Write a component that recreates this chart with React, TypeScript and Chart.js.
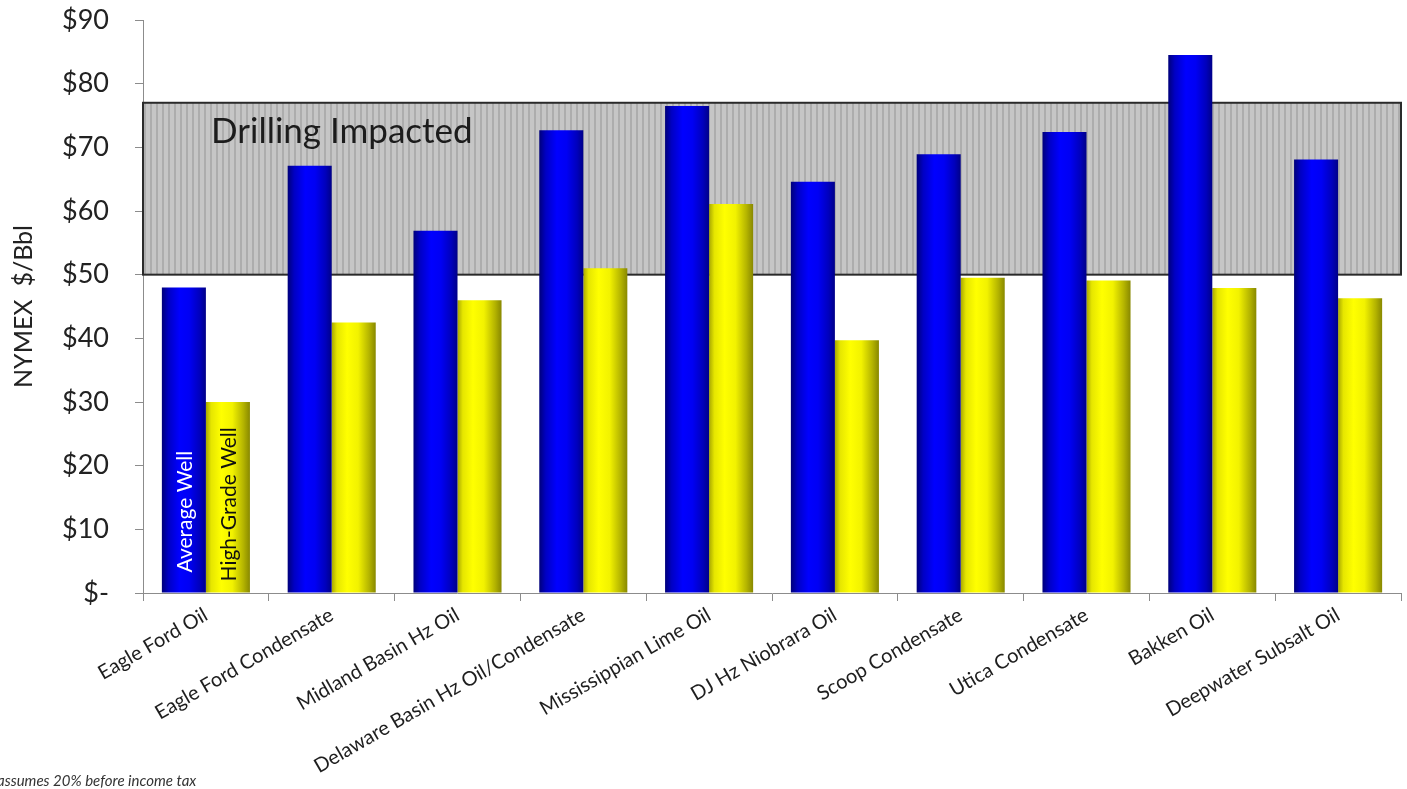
import React, { useEffect, useRef } from "react";
import { Chart, registerables } from "chart.js";

Chart.register(...registerables);

const categories = [
  "Eagle Ford Oil",
  "Eagle Ford Condensate",
  "Midland Basin Hz Oil",
  "Delaware Basin Hz Oil/Condensate",
  "Mississippian Lime Oil",
  "DJ Hz Niobrara Oil",
  "Scoop Condensate",
  "Utica Condensate",
  "Bakken Oil",
  "Deepwater Subsalt Oil",
];
const averageWell = [48.0, 67.1, 56.9, 72.7, 76.5, 64.6, 68.9, 72.4, 84.5, 68.1];
const highGradeWell = [30.0, 42.5, 46.0, 51.0, 61.1, 39.7, 49.5, 49.1, 47.9, 46.3];
const seriesNames = ["Average Well", "High-Grade Well"];
const yMin = 0;
const yMax = 90;
const yStep = 10;
const impactedRange = [50, 77];
const impactedLabel = "Drilling Impacted";
const yAxisTitle = "NYMEX  $/Bbl";
const footnote = "assumes 20% before income tax";

const FONT = "Lato, 'Open Sans', sans-serif";

function makeStripePattern(ctx: CanvasRenderingContext2D) {
  const c = document.createElement("canvas");
  c.width = 6;
  c.height = 6;
  const p = c.getContext("2d")!;
  p.fillStyle = "#c6c6c6";
  p.fillRect(0, 0, 6, 6);
  p.fillStyle = "#adadad";
  p.fillRect(0, 0, 2, 6);
  return ctx.createPattern(c, "repeat")!;
}

const gradientPlugin = {
  id: "barGradients",
  beforeDatasetDraw(chart: any, args: any) {
    const ctx = chart.ctx as CanvasRenderingContext2D;
    const meta = args.meta;
    meta.data.forEach((el: any) => {
      const { x, width } = el.getProps(["x", "width"], true);
      const g = ctx.createLinearGradient(x - width / 2, 0, x + width / 2, 0);
      if (args.index === 0) {
        g.addColorStop(0, "#00007a");
        g.addColorStop(0.15, "#0000c4");
        g.addColorStop(0.4, "#0000ff");
        g.addColorStop(0.62, "#0000f4");
        g.addColorStop(0.86, "#0000bc");
        g.addColorStop(1, "#000088");
      } else {
        g.addColorStop(0, "#a8a800");
        g.addColorStop(0.12, "#e6e600");
        g.addColorStop(0.35, "#ffff00");
        g.addColorStop(0.6, "#f2f200");
        g.addColorStop(0.85, "#b4b400");
        g.addColorStop(1, "#888800");
      }
      el.options = Object.assign({}, el.options, { backgroundColor: g });
    });
  },
};

const boxPlugin = {
  id: "impactedBox",
  beforeDatasetsDraw(chart: any) {
    const ctx = chart.ctx as CanvasRenderingContext2D;
    const { left, right } = chart.chartArea;
    const y = chart.scales.y;
    const top = y.getPixelForValue(impactedRange[1]);
    const bottom = y.getPixelForValue(impactedRange[0]);
    ctx.save();
    ctx.fillStyle = makeStripePattern(ctx);
    ctx.fillRect(left, top, right - left, bottom - top);
    ctx.strokeStyle = "#2a2a2a";
    ctx.lineWidth = 2;
    ctx.strokeRect(left, top, right - left, bottom - top);
    ctx.fillStyle = "#1c1c1c";
    ctx.font = `35px ${FONT}`;
    ctx.textAlign = "left";
    ctx.textBaseline = "alphabetic";
    ctx.fillText(impactedLabel, left + 68, top + 40);
    ctx.restore();
  },
  afterDatasetsDraw(chart: any) {
    const ctx = chart.ctx as CanvasRenderingContext2D;
    const colors = ["#ffffff", "#111111"];
    const offsets = [20, 11];
    chart.data.datasets.forEach((ds: any, i: number) => {
      const el = chart.getDatasetMeta(i).data[0];
      if (!el) return;
      const { x, base } = el.getProps(["x", "base"], true);
      ctx.save();
      ctx.translate(x, base - offsets[i]);
      ctx.rotate(-Math.PI / 2);
      ctx.fillStyle = colors[i];
      ctx.font = `21px ${FONT}`;
      ctx.textAlign = "left";
      ctx.textBaseline = "middle";
      ctx.fillText(ds.label, 0, 1);
      ctx.restore();
    });
    ctx.save();
    ctx.fillStyle = "#333333";
    ctx.font = `italic 15px ${FONT}`;
    ctx.textAlign = "left";
    ctx.textBaseline = "alphabetic";
    ctx.fillText(footnote, -3, 786);
    ctx.restore();
  },
};

export default function App() {
  const ref = useRef<HTMLCanvasElement>(null);
  useEffect(() => {
    if (!ref.current) return;
    const chart = new Chart(ref.current, {
      type: "bar",
      data: {
        labels: categories,
        datasets: [
          { label: seriesNames[0], data: averageWell, backgroundColor: "#0000ff", borderWidth: 0 },
          { label: seriesNames[1], data: highGradeWell, backgroundColor: "#ffff00", borderWidth: 0 },
        ],
      },
      options: {
        animation: false,
        responsive: false,
        devicePixelRatio: 1,
        layout: { padding: { top: 20, right: 6, bottom: 0, left: 0 } },
        plugins: { legend: { display: false }, tooltip: { enabled: false }, title: { display: false } },
        datasets: { bar: { categoryPercentage: 0.7, barPercentage: 1 } },
        scales: {
          x: {
            afterFit: (s: any) => {
              s.height = 196;
            },
            grid: { drawOnChartArea: false, offset: true, tickLength: 8, color: "#8c8c8c" },
            border: { color: "#8c8c8c", width: 1 },
            ticks: {
              autoSkip: false,
              minRotation: 30,
              maxRotation: 30,
              padding: 2,
              color: "#1e1e1e",
              font: { family: FONT, size: 20 },
            },
          },
          y: {
            min: yMin,
            max: yMax,
            afterFit: (s: any) => {
              s.width = 143;
              s.paddingTop = 0;
              s.paddingBottom = 0;
            },
            grid: { drawOnChartArea: false, tickLength: 8, color: "#8c8c8c" },
            border: { color: "#8c8c8c", width: 1 },
            ticks: {
              stepSize: yStep,
              padding: 26,
              color: "#222222",
              font: { family: FONT, size: 27 },
              callback: (v: any) => (Number(v) === 0 ? "$-" : "$" + v),
            },
            title: {
              display: true,
              text: yAxisTitle,
              color: "#222222",
              font: { family: FONT, size: 25 },
              padding: { top: 9, bottom: 0 },
            },
          },
        },
      },
      plugins: [gradientPlugin, boxPlugin],
    });
    return () => chart.destroy();
  }, []);
  return (
    <div style={{ position: "absolute", left: 0, top: 0, width: 1407, height: 789, background: "#fff" }}>
      <canvas ref={ref} width={1407} height={789} style={{ display: "block" }} />
    </div>
  );
}
